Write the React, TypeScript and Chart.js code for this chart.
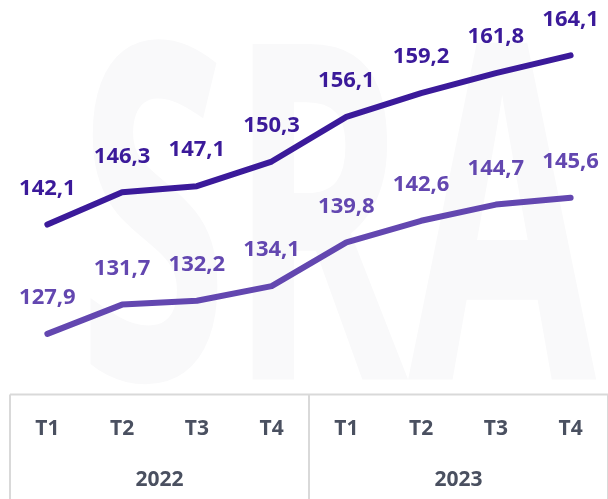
import React, { useEffect, useRef } from "react";
import { Chart, registerables } from "chart.js";

Chart.register(...registerables);

const quarters = ["T1", "T2", "T3", "T4", "T1", "T2", "T3", "T4"];
const years = ["2022", "2023"];
const seriesTop = [142.1, 146.3, 147.1, 150.3, 156.1, 159.2, 161.8, 164.1];
const seriesBottom = [127.9, 131.7, 132.2, 134.1, 139.8, 142.6, 144.7, 145.6];
const yMin = 120;
const yMax = 171.3;

const DARK = "#3b1a9a";
const LIGHT = "#6347b0";
const AXIS_TEXT = "#4a5060";
const TABLE_LINE = "#d9d9d9";
const FONT = "'Open Sans', 'Noto Sans', sans-serif";

const fmt = (v: number) => v.toFixed(1).replace(".", ",");

const watermarkPlugin = {
  id: "watermark",
  beforeDatasetsDraw(chart: any) {
    const { ctx, chartArea } = chart;
    ctx.save();
    ctx.fillStyle = "#f9f9fa";
    ctx.font = `bold 470px ${FONT}`;
    ctx.textBaseline = "alphabetic";
    ctx.textAlign = "left";
    ctx.translate(chartArea.left + 68, chartArea.bottom - 15);
    ctx.scale(0.58, 1);
    ctx.fillText("SRA", 0, 0);
    ctx.restore();
  },
};

const tablePlugin = {
  id: "tableLines",
  afterDraw(chart: any) {
    const { ctx, chartArea } = chart;
    const x = chart.scales.x;
    const mid = (x.getPixelForValue(3) + x.getPixelForValue(4)) / 2;
    ctx.save();
    ctx.strokeStyle = TABLE_LINE;
    ctx.lineWidth = 2;
    ctx.beginPath();
    ctx.moveTo(x.left, chartArea.bottom);
    ctx.lineTo(x.right, chartArea.bottom);
    for (const px of [x.left, mid, x.right]) {
      ctx.moveTo(px, chartArea.bottom);
      ctx.lineTo(px, chart.height);
    }
    ctx.stroke();
    ctx.restore();
  },
};

const labelPlugin = {
  id: "valueLabels",
  afterDatasetsDraw(chart: any) {
    const { ctx } = chart;
    ctx.save();
    ctx.font = `bold 22px ${FONT}`;
    ctx.textAlign = "center";
    ctx.textBaseline = "middle";
    chart.data.datasets.forEach((ds: any, i: number) => {
      const meta = chart.getDatasetMeta(i);
      ctx.fillStyle = ds.borderColor;
      meta.data.forEach((pt: any, j: number) => {
        ctx.fillText(fmt(ds.data[j]), pt.x, pt.y - 36);
      });
    });
    ctx.restore();
  },
};

export default function App() {
  const canvasRef = useRef<HTMLCanvasElement | null>(null);

  useEffect(() => {
    if (!canvasRef.current) return;
    const chart = new Chart(canvasRef.current, {
      type: "line",
      data: {
        labels: quarters,
        datasets: [
          {
            data: seriesTop,
            borderColor: DARK,
            backgroundColor: DARK,
            borderWidth: 6,
            pointRadius: 0,
            tension: 0,
            borderCapStyle: "round",
            borderJoinStyle: "round",
            xAxisID: "x",
          },
          {
            data: seriesBottom,
            borderColor: LIGHT,
            backgroundColor: LIGHT,
            borderWidth: 6,
            pointRadius: 0,
            tension: 0,
            borderCapStyle: "round",
            borderJoinStyle: "round",
            xAxisID: "x",
          },
        ],
      },
      options: {
        animation: false,
        responsive: true,
        maintainAspectRatio: false,
        layout: { padding: { left: 10, right: -2, top: 0, bottom: 2 } },
        plugins: {
          legend: { display: false },
          tooltip: { enabled: false },
          title: { display: false },
        },
        scales: {
          x: {
            type: "category",
            position: "bottom",
            offset: true,
            grid: { display: false, drawTicks: false },
            border: { display: false },
            ticks: {
              color: AXIS_TEXT,
              font: { family: FONT, size: 21, weight: "bold" },
              padding: 22,
              maxRotation: 0,
              autoSkip: false,
            },
          },
          x2: {
            type: "category",
            position: "bottom",
            labels: years,
            offset: true,
            grid: { display: false, drawTicks: false },
            border: { display: false },
            ticks: {
              color: AXIS_TEXT,
              font: { family: FONT, size: 21, weight: "bold" },
              padding: 4,
              maxRotation: 0,
              autoSkip: false,
            },
          },
          y: {
            display: false,
            min: yMin,
            max: yMax,
          },
        },
      },
      plugins: [watermarkPlugin, tablePlugin, labelPlugin],
    });
    return () => chart.destroy();
  }, []);

  return (
    <div style={{ position: "fixed", left: 0, top: 0, width: 608, height: 499 }}>
      <canvas ref={canvasRef} />
    </div>
  );
}
